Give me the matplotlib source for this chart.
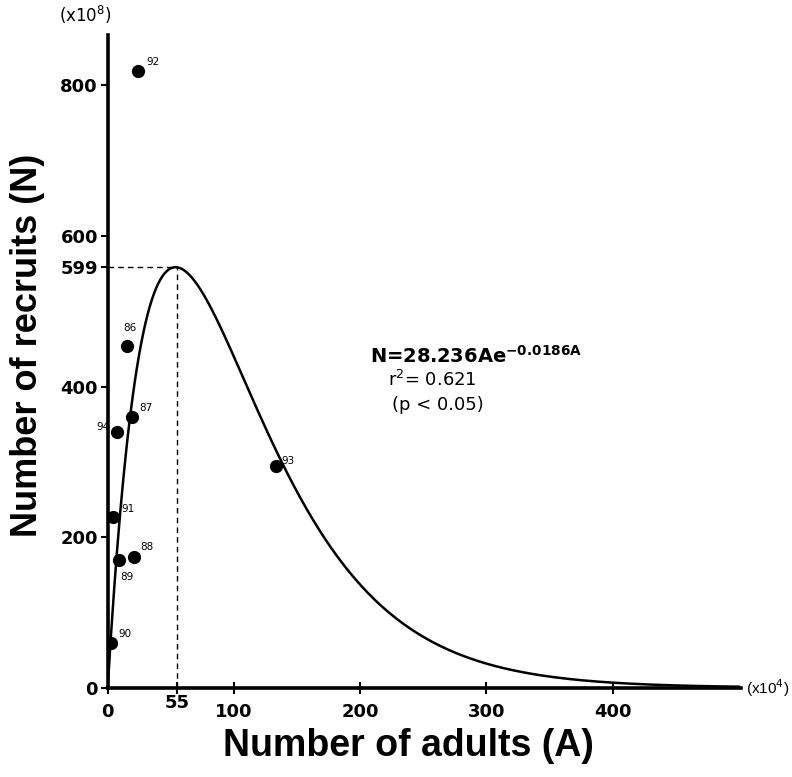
import matplotlib.pyplot as plt
import matplotlib.transforms as mtransforms
import numpy as np

plt.rcParams['font.family'] = ['DejaVu Sans']

# data (A in x10^4, N in x10^8)
years = ['86', '87', '88', '89', '90', '91', '92', '93', '94']
adults = [15.5, 19.5, 20.5, 8.9, 2.6, 4.5, 23.7, 133, 7.6]
recruits = [454, 359, 174, 169, 59, 227, 819, 295, 340]
label_offsets = [(-3, 9), (5, 3), (5, 3), (1, -8), (5, 3), (6, 2), (6, 3), (4, 0), (-15, 0)]

# Ricker fit N = a*A*exp(-b*A)
a_coef = 28.236
b_coef = 0.0186
a_fit = np.linspace(0, 500, 600)
n_fit = a_coef * a_fit * np.exp(-b_coef * a_fit)
peak_a = 55
peak_n = a_coef * (1 / b_coef) * np.exp(-1)

xticks = [0, 100, 200, 300, 400]
yticks = [0, 200, 400, 600, 800]

fig = plt.figure(figsize=(7.92, 7.77), dpi=100)
ax = fig.add_axes([0.136, 0.115, 0.80, 0.84])

ax.plot(a_fit, n_fit, color='black', lw=1.8, zorder=3)
ax.plot(adults, recruits, 'o', color='black', ms=8.5, zorder=4)
for yr, xa, yn, off in zip(years, adults, recruits, label_offsets):
    ax.annotate(yr, (xa, yn), xytext=off, textcoords='offset points',
                fontsize=7.5, ha='left', va='bottom' if off[1] >= 0 else 'top')

# dashed guide lines to the peak
ax.plot([0, peak_a], [peak_n, peak_n], ls=(0, (4, 3)), color='black', lw=1)
ax.plot([peak_a, peak_a], [0, peak_n], ls=(0, (4, 3)), color='black', lw=1)

ax.set_xlim(0, 502)
ax.set_ylim(0, 867)
for s in ['top', 'right']:
    ax.spines[s].set_visible(False)
for s in ['left', 'bottom']:
    ax.spines[s].set_linewidth(2.6)

ax.set_yticks(yticks + [peak_n])
ax.set_yticklabels([str(t) for t in yticks] + ['599'])
ax.set_xticks(xticks + [peak_a])
ax.set_xticklabels([str(t) for t in xticks] + [''])
ax.tick_params(axis='y', direction='out', length=5, width=1.5, labelsize=13, pad=2)
ax.tick_params(axis='x', direction='inout', length=8, width=1.5, labelsize=13, pad=7)
for lab in ax.get_xticklabels() + ax.get_yticklabels():
    lab.set_fontweight('bold')

trans = mtransforms.blended_transform_factory(ax.transData, ax.transAxes)
ax.text(peak_a, -0.009, '55', transform=trans, ha='center', va='top',
        fontsize=13, fontweight='bold')

ax.text(789 / 792, 1 - 688 / 777, '(x10$^4$)', transform=fig.transFigure,
        ha='right', va='center', fontsize=11, family='Liberation Sans')
ax.text(-0.035, 1.03, '(x10$^8$)', transform=ax.transAxes, ha='center', va='center',
        fontsize=12)

fig.text(408 / 792, 1 - 746 / 777, 'Number of adults (A)', fontsize=27,
         fontweight='bold', ha='center', va='center', family='Liberation Sans')
fig.text(28 / 792, 1 - 345 / 777, 'Number of recruits (N)', fontsize=26,
         fontweight='bold', ha='center', va='center', rotation=90,
         family='Liberation Sans')

ax.text(208, 441, r'N=28.236Ae$^{\mathbf{-0.0186A}}$', fontsize=14,
        fontweight='bold', va='center')
ax.text(222, 409, r'r$^2$= 0.621', fontsize=13, va='center')
ax.text(225, 376, '(p < 0.05)', fontsize=13, va='center')

fig.savefig('out.png', dpi=100, facecolor='white')
